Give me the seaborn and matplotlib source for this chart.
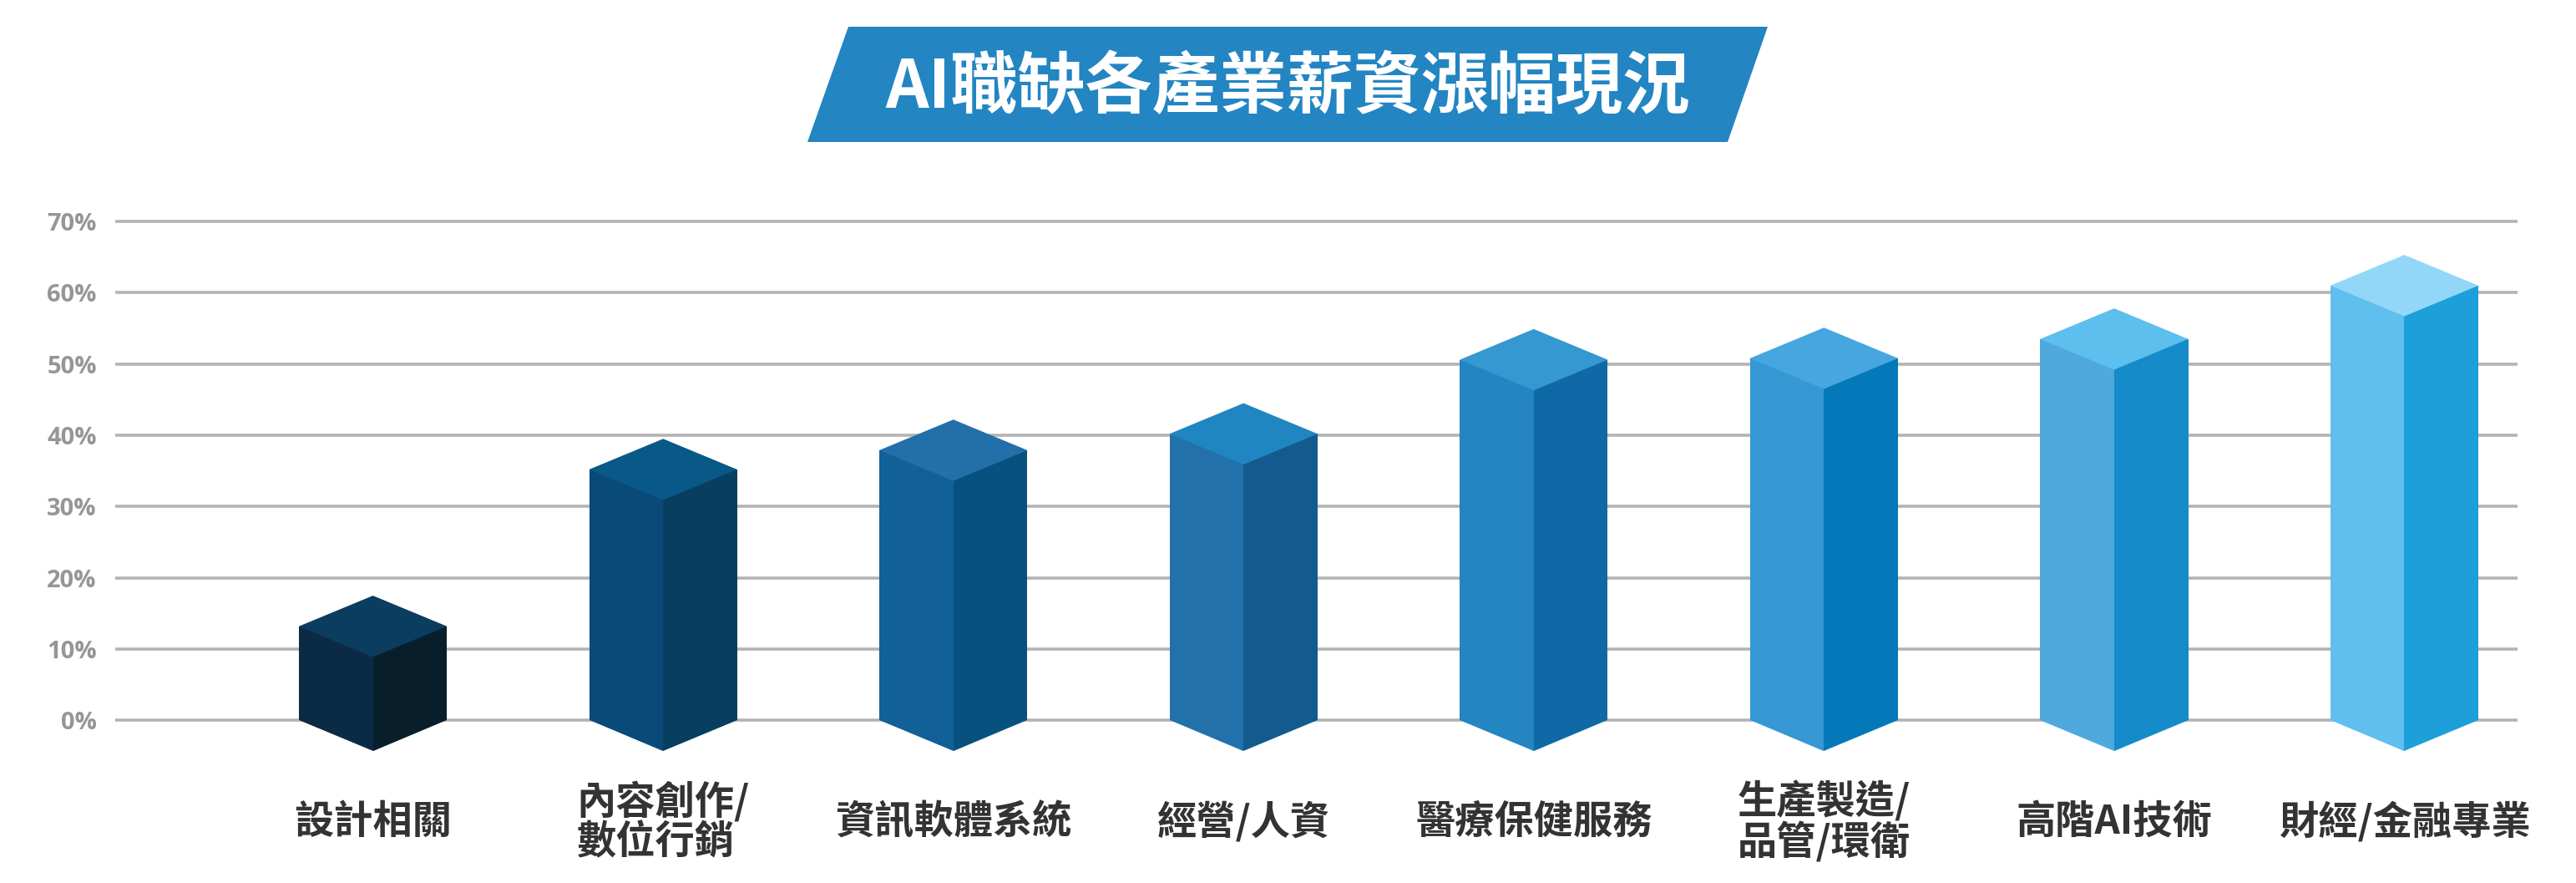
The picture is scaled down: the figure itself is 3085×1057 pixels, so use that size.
import numpy as np
import pandas as pd
import matplotlib.pyplot as plt
from matplotlib.patches import Polygon
import seaborn as sns

categories = ['設計相關', '內容創作/\n數位行銷', '資訊軟體系統', '經營/人資',
              '醫療保健服務', '生產製造/\n品管/環衛', '高階AI技術', '財經/金融專業']
values = [13.2, 35.2, 37.9, 40.2, 50.6, 50.8, 53.5, 61.0]
y_ticks = [0, 10, 20, 30, 40, 50, 60, 70]
title = 'AI職缺各產業薪資漲幅現況'

left_colors = ['#0b2b45', '#094a79', '#116098', '#2371aa', '#2385c2', '#3598d2', '#4fa8de', '#60bfee']
right_colors = ['#081f2b', '#083e5f', '#07517f', '#135b8e', '#1069a6', '#0478b8', '#158bc9', '#1d9fd9']
top_colors = ['#0b3d60', '#085888', '#226fa9', '#2086c1', '#3598d1', '#46a7e0', '#5cbfee', '#92d7f8']

W, H = 3085, 1057
depth = 4.3  # fake 3D depth, in % units

sns.set_theme(style='white')
plt.rcParams['font.family'] = ['Noto Sans CJK TC', 'DejaVu Sans']

df = pd.DataFrame({
    'category': categories * 2,
    'value': values * 2,
    'face': ['left'] * 8 + ['right'] * 8,
})

fig = plt.figure(figsize=(W / 100, H / 100), dpi=100)
ax = fig.add_axes([138 / W, 1 - 905 / H, (3015 - 138) / W, (905 - 248) / H])

sns.barplot(data=df, x='category', y='value', hue='face', order=categories,
            width=0.51, gap=0, dodge=True, legend=False, ax=ax, saturation=1,
            linewidth=0)

ax.set_xlim(-0.888, 7.39)
ax.set_ylim(-5, 72)
ax.set_xlabel('')
ax.set_ylabel('')
ax.set_axisbelow(True)
ax.yaxis.grid(True, color='#b3b3b3', linewidth=2.6)
ax.xaxis.grid(False)
sns.despine(ax=ax, left=True, bottom=True, top=True, right=True)

# colour the two faces, then add the top diamond and bottom wedge of each bar
for i, (lp, rp) in enumerate(zip(ax.containers[0], ax.containers[1])):
    lp.set_facecolor(left_colors[i])
    rp.set_facecolor(right_colors[i])
    x0, xc, x1 = lp.get_x(), rp.get_x(), rp.get_x() + rp.get_width()
    v = values[i]
    ax.fill([x0, xc, x1, xc], [v, v + depth, v, v - depth], color=top_colors[i], lw=0, zorder=3)
    # wedges overlap the bar a little so the grid line does not show through the seam
    ax.fill([x0, x0, xc, xc], [0, 1, 1, -depth], color=left_colors[i], lw=0, zorder=3)
    ax.fill([xc, xc, x1, x1], [-depth, 1, 1, 0], color=right_colors[i], lw=0, zorder=3)

ax.set_yticks(y_ticks)
ax.set_yticklabels([f'{t}%' for t in y_ticks], family=['Open Sans', 'DejaVu Sans'],
                   fontsize=21, fontweight='bold', color='#969696')
ax.tick_params(axis='y', length=0, pad=16)
ax.tick_params(axis='x', length=0, pad=57)
for lab in ax.get_xticklabels():
    lab.set(fontsize=34, fontweight='bold', color='#333333', va='center',
            ha='center', multialignment='left', linespacing=1.0)

# title banner
fig.patches.append(Polygon([[1016 / W, 1 - 32 / H], [2117 / W, 1 - 32 / H],
                            [2069 / W, 1 - 170 / H], [967 / W, 1 - 170 / H]],
                           closed=True, transform=fig.transFigure,
                           facecolor='#2385c2', edgecolor='none'))
fig.text(1542 / W, 1 - 106 / H, title, color='white', fontsize=58, fontweight='bold',
         ha='center', va='center')

fig.savefig('out.png', dpi=100)
